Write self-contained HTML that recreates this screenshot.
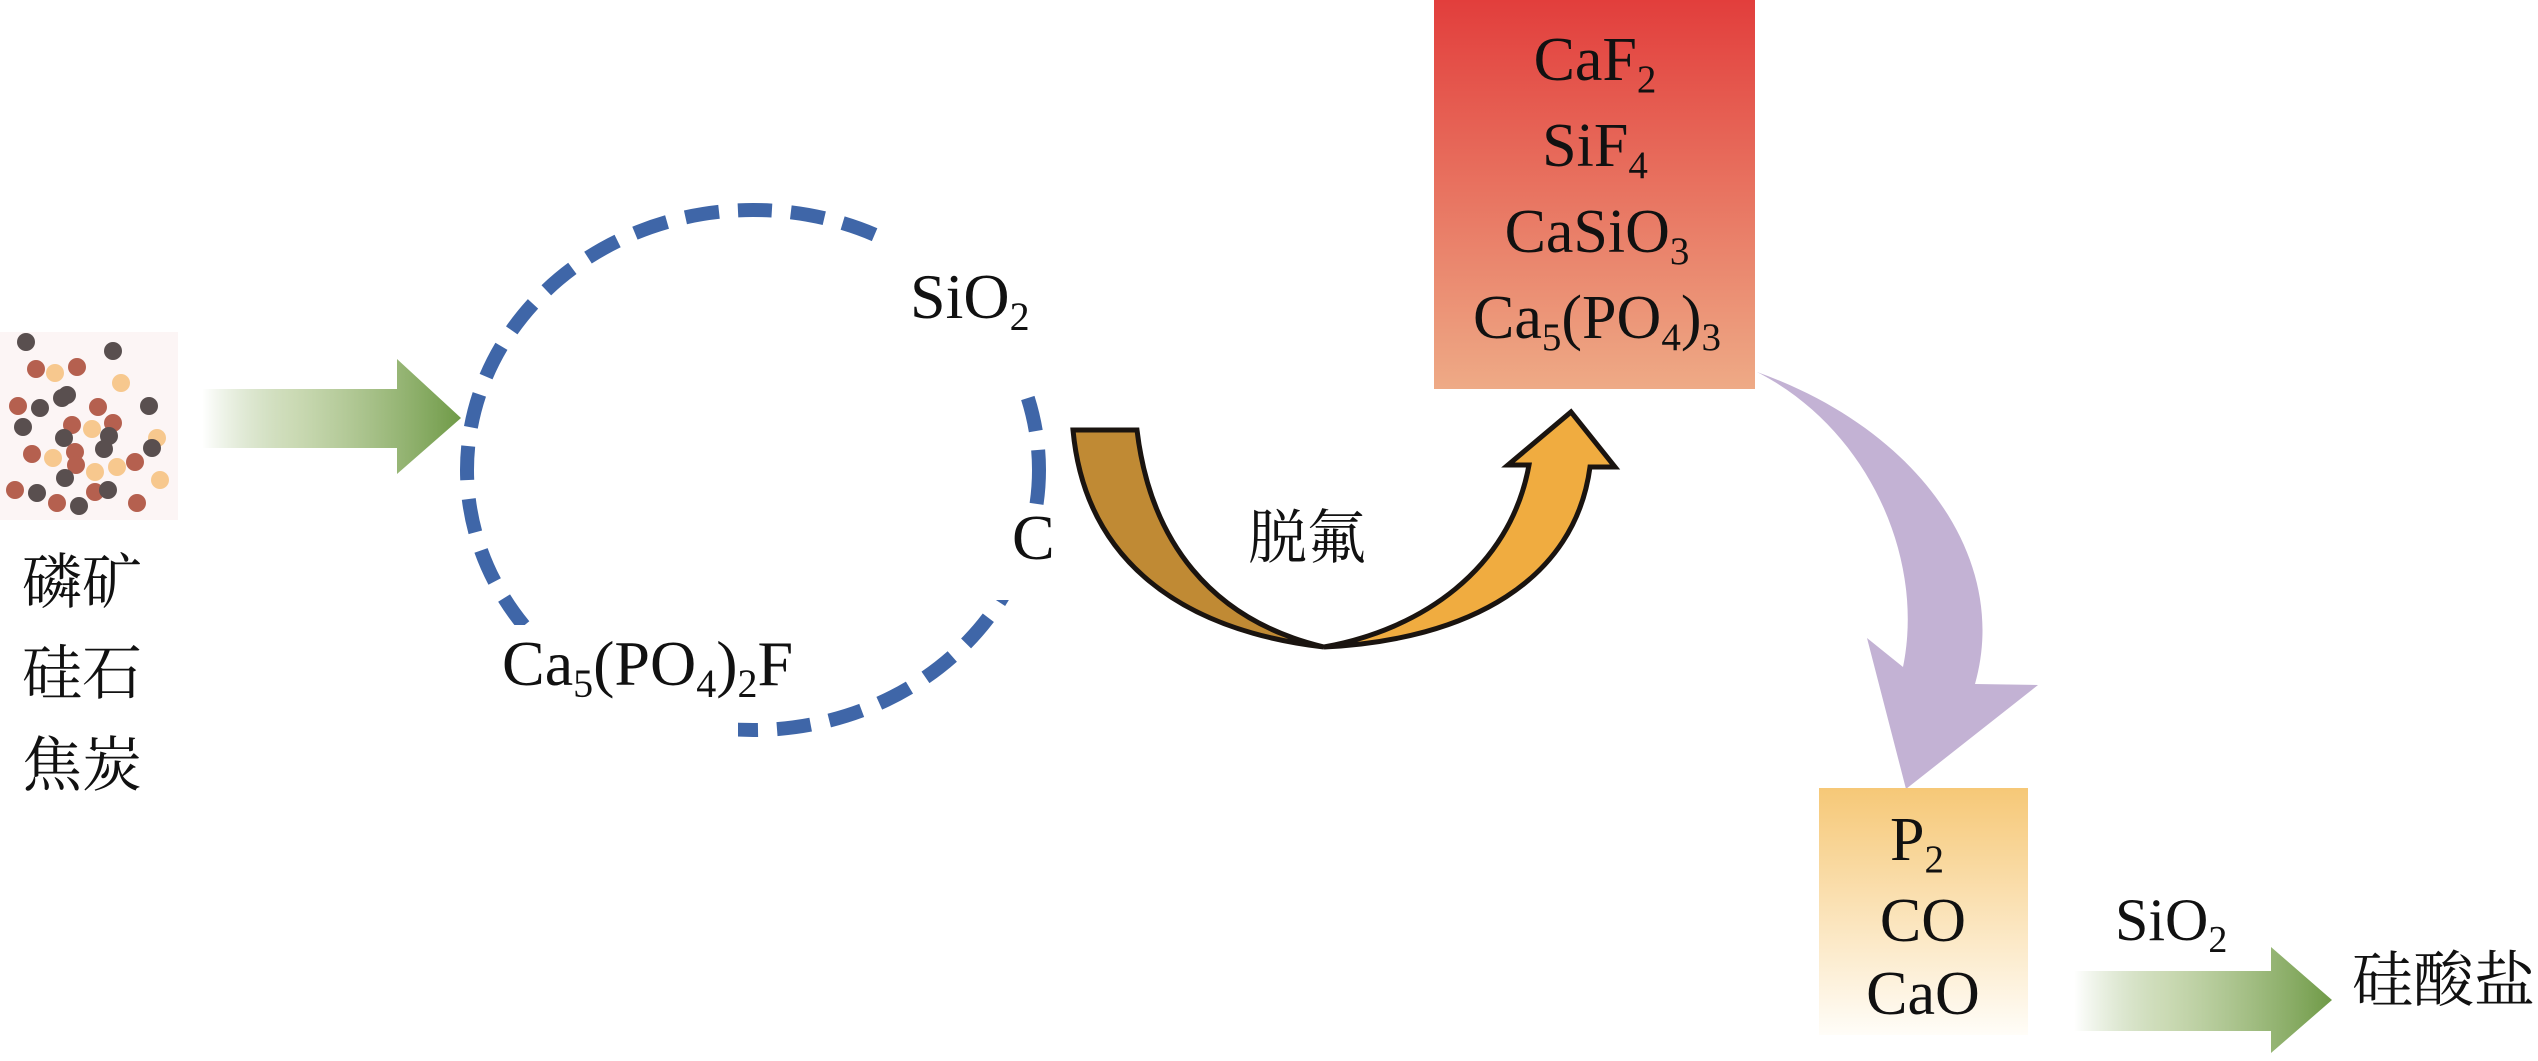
<!DOCTYPE html>
<html><head><meta charset="utf-8"><style>
html,body{margin:0;padding:0;background:#fff;}
svg{display:block;}
text{font-family:"Liberation Serif","Noto Serif CJK SC",serif;fill:#111;}
.cjk{font-family:"Noto Serif CJK SC","Liberation Serif",serif;}
</style></head><body>
<svg width="2538" height="1061" viewBox="0 0 2538 1061" xmlns="http://www.w3.org/2000/svg">
<defs>
<linearGradient id="g1" x1="0" y1="0" x2="1" y2="0"><stop offset="0" stop-color="#7ba352" stop-opacity="0"/><stop offset="0.35" stop-color="#a9c284" stop-opacity="0.6"/><stop offset="1" stop-color="#6f9a47"/></linearGradient>
<linearGradient id="gr" x1="0" y1="0" x2="0" y2="1"><stop offset="0" stop-color="#e23e3c"/><stop offset="1" stop-color="#eeaa86"/></linearGradient>
<linearGradient id="gy" x1="0" y1="0" x2="0" y2="1"><stop offset="0" stop-color="#f6c877"/><stop offset="1" stop-color="#fffdf8"/></linearGradient>
</defs>
<rect x="0" y="332" width="178" height="188" fill="#fcf5f5"/>
<g>
<circle cx="26" cy="342" r="9" fill="#594f4f"/><circle cx="113" cy="351" r="9" fill="#594f4f"/>
<circle cx="36" cy="369" r="9" fill="#b5604f"/><circle cx="55" cy="373" r="9" fill="#f7c88e"/>
<circle cx="77" cy="367" r="9" fill="#b5604f"/><circle cx="121" cy="383" r="9" fill="#f7c88e"/>
<circle cx="62" cy="398" r="9" fill="#594f4f"/><circle cx="67" cy="395" r="9" fill="#594f4f"/>
<circle cx="18" cy="406" r="9" fill="#b5604f"/><circle cx="40" cy="408" r="9" fill="#594f4f"/>
<circle cx="98" cy="407" r="9" fill="#b5604f"/><circle cx="149" cy="406" r="9" fill="#594f4f"/>
<circle cx="23" cy="427" r="9" fill="#594f4f"/><circle cx="72" cy="425" r="9" fill="#b5604f"/>
<circle cx="92" cy="429" r="9" fill="#f7c88e"/><circle cx="113" cy="423" r="9" fill="#b5604f"/>
<circle cx="157" cy="438" r="9" fill="#f7c88e"/><circle cx="109" cy="436" r="9" fill="#594f4f"/>
<circle cx="64" cy="438" r="9" fill="#594f4f"/><circle cx="152" cy="448" r="9" fill="#594f4f"/>
<circle cx="104" cy="449" r="9" fill="#594f4f"/><circle cx="32" cy="454" r="9" fill="#b5604f"/>
<circle cx="75" cy="452" r="9" fill="#b5604f"/><circle cx="53" cy="458" r="9" fill="#f7c88e"/>
<circle cx="76" cy="465" r="9" fill="#b5604f"/><circle cx="135" cy="462" r="9" fill="#b5604f"/>
<circle cx="117" cy="467" r="9" fill="#f7c88e"/><circle cx="95" cy="472" r="9" fill="#f7c88e"/>
<circle cx="65" cy="478" r="9" fill="#594f4f"/><circle cx="160" cy="480" r="9" fill="#f7c88e"/>
<circle cx="15" cy="490" r="9" fill="#b5604f"/><circle cx="37" cy="493" r="9" fill="#594f4f"/>
<circle cx="95" cy="492" r="9" fill="#b5604f"/><circle cx="108" cy="490" r="9" fill="#594f4f"/>
<circle cx="57" cy="503" r="9" fill="#b5604f"/><circle cx="79" cy="506" r="9" fill="#594f4f"/>
<circle cx="137" cy="503" r="9" fill="#b5604f"/>
</g>
<text class="cjk" x="22" y="603" font-size="60">磷矿</text>
<text class="cjk" x="22" y="694" font-size="60">硅石</text>
<text class="cjk" x="22" y="786" font-size="60">焦炭</text>
<polygon points="202,389 397,389 397,359 461,418 397,474 397,448 202,448" fill="url(#g1)"/>
<ellipse cx="753" cy="470" rx="286" ry="260" fill="none" stroke="#3f66a8" stroke-width="14" stroke-dasharray="34 19"/>
<rect x="885" y="225" width="160" height="158" fill="#fff"/>
<rect x="990" y="515" width="70" height="85" fill="#fff"/>
<rect x="500" y="625" width="238" height="130" fill="#fff"/>
<text x="910" y="318" font-size="64">SiO<tspan font-size="40" dy="12">2</tspan></text>
<text x="1012" y="559" font-size="64">C</text>
<text x="502" y="685" font-size="64">Ca<tspan font-size="40" dy="12">5</tspan><tspan dy="-12">(PO</tspan><tspan font-size="40" dy="12">4</tspan><tspan dy="-12">)</tspan><tspan font-size="40" dy="12">2</tspan><tspan dy="-12">F</tspan></text>
<path d="M1073,430 L1137,430 C1150,540 1210,620 1324,647 C1180,630 1085,560 1073,430 Z" fill="#c08a34" stroke="#1a1410" stroke-width="5" stroke-linejoin="miter"/>
<path d="M1324,647 C1420,630 1510,570 1529,465 L1508,465 L1571,412 L1615,467 L1590,467 C1575,580 1470,640 1324,647 Z" fill="#f0ac40" stroke="#1a1410" stroke-width="5"/>
<text class="cjk" x="1248" y="558" font-size="59">脱氟</text>
<rect x="1434" y="0" width="321" height="389" fill="url(#gr)"/>
<g text-anchor="middle" font-size="62">
<text x="1595" y="80">CaF<tspan font-size="39" dy="12">2</tspan></text>
<text x="1595" y="166">SiF<tspan font-size="39" dy="12">4</tspan></text>
<text x="1597" y="252">CaSiO<tspan font-size="39" dy="12">3</tspan></text>
<text x="1597" y="338">Ca<tspan font-size="39" dy="12">5</tspan><tspan dy="-12">(PO</tspan><tspan font-size="39" dy="12">4</tspan><tspan dy="-12">)</tspan><tspan font-size="39" dy="12">3</tspan></text>
</g>
<path d="M1757,372 C1920,430 2010,560 1975,684 L2038,685 L1906,789 L1867,638 L1903,667 C1925,560 1870,430 1757,372 Z" fill="#c3b2d4"/>
<rect x="1819" y="788" width="209" height="247" fill="url(#gy)"/>
<g text-anchor="middle" font-size="62">
<text x="1917" y="860">P<tspan font-size="39" dy="12">2</tspan></text>
<text x="1923" y="941">CO</text>
<text x="1923" y="1014">CaO</text>
</g>
<polygon points="2074,971 2271,971 2271,947 2332,1000 2271,1053 2271,1031 2074,1031" fill="url(#g1)"/>
<text x="2115" y="940" font-size="60">SiO<tspan font-size="38" dy="12">2</tspan></text>
<text class="cjk" x="2352" y="1001" font-size="61">硅酸盐</text>
</svg>
</body></html>
